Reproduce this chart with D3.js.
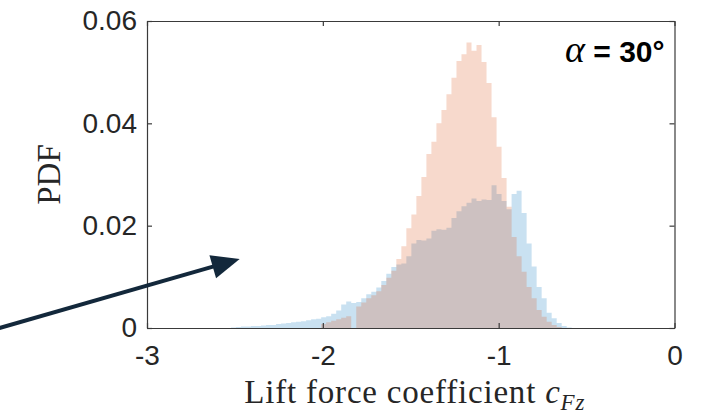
<!DOCTYPE html>
<html>
<head>
<meta charset="utf-8">
<script src="https://cdn.jsdelivr.net/npm/d3@7"></script>
<style>
  body { margin: 0; background: #fff; }
  svg { display: block; }
</style>
</head>
<body>
<div id="chart"></div>
<script>
// ---------- data ----------
const binStart = -2.5225;
const binWidth = 0.0285;

// PDF per bin (blue series)
const pdfBlue = [
  0.0001, 0.0002, 0.0003, 0.0003, 0.0004, 0.0004, 0.0005, 0.0006, 0.0006, 0.0008,
  0.0009, 0.0010, 0.0011, 0.0012, 0.0013, 0.0015, 0.0017, 0.0018, 0.0021, 0.0023,
  0.0028, 0.0034, 0.0046, 0.0052, 0.0049, 0.0051, 0.0058, 0.0066, 0.0071, 0.0079,
  0.0092, 0.0106, 0.0119, 0.0124, 0.0126, 0.0140, 0.0165, 0.0172, 0.0171, 0.0175,
  0.0190, 0.0193, 0.0192, 0.0196, 0.0215, 0.0228, 0.0238, 0.0245, 0.0253, 0.0248,
  0.0251, 0.0250, 0.0279, 0.0262, 0.0248, 0.0232, 0.0262, 0.0268, 0.0225, 0.0165,
  0.0120, 0.0080, 0.0058, 0.0030, 0.0019, 0.0010, 0.0004, 0.0001
];

// PDF per bin (orange series), same bins
const pdfOrange = [
  0, 0, 0, 0, 0, 0, 0, 0, 0, 0,
  0, 0, 0, 0, 0, 0, 0, 0, 0.0008, 0.0011,
  0.0014, 0.0017, 0.0020, 0.0023, 0, 0.0042, 0.0050, 0.0058, 0.0064, 0.0072,
  0.0084, 0.0098, 0.0112, 0.0135, 0.0160, 0.0195, 0.0222, 0.0258, 0.0295, 0.0340,
  0.0364, 0.0400, 0.0426, 0.0457, 0.0489, 0.0522, 0.0535, 0.0558, 0.0542, 0.0553,
  0.0520, 0.0479, 0.0412, 0.0354, 0.0293, 0.0237, 0.0178, 0.0140, 0.0110, 0.0080,
  0.0058, 0.0035, 0.0022, 0.0012, 0.0006, 0.0002, 0
];

const xTicks = [-3, -2, -1, 0];
const xTickLabels = ["-3", "-2", "-1", "0"];
const yTicks = [0, 0.02, 0.04, 0.06];
const yTickLabels = ["0", "0.02", "0.04", "0.06"];

// annotation arrow, in data units
const arrowFrom = [-3.84, 0];
const arrowTo = [-2.473, 0.0135];

// ---------- layout ----------
const W = 718, H = 417;
const margin = { top: 21, right: 43.5, bottom: 89, left: 147 };
const width = W - margin.left - margin.right;
const height = H - margin.top - margin.bottom;

const svg = d3.select("#chart").append("svg")
  .attr("width", W).attr("height", H)
  .style("background", "#fff");

const g = svg.append("g").attr("transform", `translate(${margin.left},${margin.top})`);

const x = d3.scaleLinear().domain([-3, 0]).range([0, width]);
const y = d3.scaleLinear().domain([0, 0.06]).range([height, 0]);

svg.append("defs").append("clipPath").attr("id", "plot-clip")
  .append("rect").attr("width", width).attr("height", height);

// ---------- histograms ----------
function stepPoints(vals) {
  const pts = vals.map((v, i) => ({ e: binStart + i * binWidth, v }));
  pts.push({ e: binStart + vals.length * binWidth, v: 0 });
  return pts;
}

const area = d3.area()
  .curve(d3.curveStepAfter)
  .x(d => x(d.e))
  .y0(y(0))
  .y1(d => y(d.v));

const plot = g.append("g").attr("clip-path", "url(#plot-clip)");

plot.append("path")
  .datum(stepPoints(pdfBlue))
  .attr("fill", "rgb(0,114,189)")
  .attr("fill-opacity", 0.21)
  .attr("d", area);

plot.append("path")
  .datum(stepPoints(pdfOrange))
  .attr("fill", "rgb(217,83,25)")
  .attr("fill-opacity", 0.22)
  .attr("d", area);

// ---------- axes (box, inward ticks) ----------
const axisColor = "#3a3a3a";
const tickFont = "'Liberation Sans', Arial, sans-serif";

function styleAxis(sel) {
  sel.select(".domain").attr("stroke", axisColor).attr("stroke-width", 1.2);
  sel.selectAll(".tick line").attr("stroke", axisColor).attr("stroke-width", 1.2);
  sel.selectAll(".tick text")
    .attr("fill", "#262626")
    .style("font-family", tickFont)
    .style("font-size", "28px");
}

g.append("g")
  .attr("transform", `translate(0,${height})`)
  .call(d3.axisBottom(x).tickValues(xTicks).tickSize(-5).tickSizeOuter(0)
    .tickPadding(17).tickFormat((d, i) => xTickLabels[i]))
  .call(styleAxis);

g.append("g")
  .call(d3.axisTop(x).tickValues(xTicks).tickSize(-5).tickSizeOuter(0).tickFormat(""))
  .call(styleAxis);

g.append("g")
  .call(d3.axisLeft(y).tickValues(yTicks).tickSize(-5).tickSizeOuter(0)
    .tickPadding(10).tickFormat((d, i) => yTickLabels[i]))
  .call(styleAxis);

g.append("g")
  .attr("transform", `translate(${width},0)`)
  .call(d3.axisRight(y).tickValues(yTicks).tickSize(-5).tickSizeOuter(0).tickFormat(""))
  .call(styleAxis);

// ---------- labels ----------
const serif = "'Liberation Serif', 'Times New Roman', serif";

const xl = g.append("text")
  .attr("x", width / 2 + 4)
  .attr("y", height + 75)
  .attr("text-anchor", "middle")
  .attr("fill", "#262626")
  .style("font-family", serif)
  .style("font-size", "33px")
  .style("letter-spacing", "0.8px");
xl.append("tspan").text("Lift force coefficient ");
xl.append("tspan").style("font-style", "italic").text("c");
xl.append("tspan").style("font-style", "italic").style("font-size", "23px")
  .attr("dy", 7).text("Fz");

g.append("text")
  .attr("transform", `translate(${-87},${height / 2}) rotate(-90)`)
  .attr("text-anchor", "middle")
  .attr("fill", "#262626")
  .style("font-family", serif)
  .style("font-size", "33px")
  .text("PDF");

const ann = g.append("text")
  .attr("x", width - 10)
  .attr("y", 41)
  .attr("text-anchor", "end")
  .attr("fill", "#000");
ann.append("tspan")
  .style("font-family", serif).style("font-style", "italic").style("font-size", "38px")
  .text("α");
ann.append("tspan")
  .style("font-family", tickFont).style("font-weight", "bold").style("font-size", "30px")
  .text(" = 30°");

// ---------- arrow annotation ----------
const ax0 = x(arrowFrom[0]), ay0 = y(arrowFrom[1]);
const ax1 = x(arrowTo[0]), ay1 = y(arrowTo[1]);
const len = Math.hypot(ax1 - ax0, ay1 - ay0);
const ux = (ax1 - ax0) / len, uy = (ay1 - ay0) / len;
const headL = 28, headW = 12;
const bx = ax1 - ux * headL, by = ay1 - uy * headL;
const arrowColor = "#13283b";

g.append("line")
  .attr("x1", ax0).attr("y1", ay0)
  .attr("x2", bx + ux * 2).attr("y2", by + uy * 2)
  .attr("stroke", arrowColor)
  .attr("stroke-width", 4);

g.append("path")
  .attr("d", `M${ax1},${ay1} L${bx - uy * headW},${by + ux * headW} L${bx + uy * headW},${by - ux * headW} Z`)
  .attr("fill", arrowColor);
</script>
</body>
</html>
